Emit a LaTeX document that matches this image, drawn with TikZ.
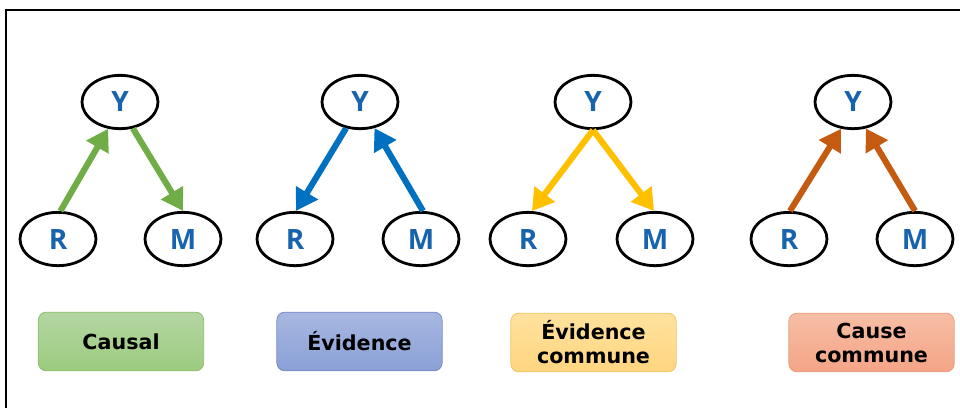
\documentclass[tikz,border=0pt]{standalone}
\usepackage{fontspec}
\setmainfont{DejaVu Sans}
\newfontfamily\letterfont{Open Sans}
\usetikzlibrary{shapes.geometric,arrows.meta}
\definecolor{cgreen}{HTML}{70AD47}
\definecolor{cblue}{HTML}{0070C0}
\definecolor{cyellow}{HTML}{FFC000}
\definecolor{corange}{HTML}{C55A11}
\definecolor{ltext}{HTML}{1863AE}
\tikzset{
  var/.style={ellipse, draw=black, line width=2.1pt, minimum width=57pt, minimum height=40pt, inner sep=0pt, font=\letterfont\bfseries\fontsize{21}{24}\selectfont, text=ltext},
  conn/.style={line width=4.6pt, -{Triangle[length=16pt,width=18.5pt]}},
  lbl/.style={rounded corners=6pt, line width=0.6pt, minimum width=124pt, minimum height=44pt, inner sep=0pt, align=center, font=\bfseries\fontsize{15.5}{18}\selectfont, text=black},
}
\begin{document}
\begin{tikzpicture}[x=0.75pt,y=-0.75pt]
\useasboundingbox (0,0) rectangle (960,408);
\draw[line width=1.2pt] (960,10) -- (6,10) -- (6,408);
% group 1
\node[var] (Y1) at (120,102) {Y};
\node[var] (R1) at (58,239) {R};
\node[var] (M1) at (183,239) {M};
\draw[conn, cgreen] (R1.85) -- (Y1.246);
\draw[conn, cgreen] (Y1.296) -- (M1.90);
% group 2
\node[var] (Y2) at (360,102) {Y};
\node[var] (R2) at (295,239) {R};
\node[var] (M2) at (421,239) {M};
\draw[conn, cblue] (Y2.242) -- (R2.88);
\draw[conn, cblue] (M2.86) -- (Y2.299);
% group 3
\node[var] (Y3) at (593,102) {Y};
\node[var] (R3) at (528,239) {R};
\node[var] (M3) at (655,239) {M};
\draw[conn, cyellow] (Y3.270) -- (R3.82);
\draw[conn, cyellow] (Y3.270) -- (M3.92);
% group 4
\node[var] (Y4) at (853,102) {Y};
\node[var] (R4) at (789,239) {R};
\node[var] (M4) at (915,239) {M};
\draw[conn, corange] (R4.88) -- (Y4.246);
\draw[conn, corange] (M4.90) -- (Y4.296);
% labels
\node[lbl, draw={rgb,255:red,140;green,190;blue,110}, top color={rgb,255:red,180;green,214;blue,163}, bottom color={rgb,255:red,156;green,203;blue,127}] (L1) at (121,341.5) {Causal};
\node[lbl, draw={rgb,255:red,118;green,138;blue,196}, top color={rgb,255:red,168;green,183;blue,225}, bottom color={rgb,255:red,138;green,160;blue,214}] (L2) at (359.5,341.5) {Évidence};
\node[lbl, draw={rgb,255:red,238;green,196;blue,100}, top color={rgb,255:red,255;green,226;blue,158}, bottom color={rgb,255:red,255;green,213;blue,128}] (L3) at (593.5,342.5) {Évidence\\commune};
\node[lbl, draw={rgb,255:red,232;green,160;blue,128}, top color={rgb,255:red,246;green,190;blue,165}, bottom color={rgb,255:red,244;green,164;blue,134}] (L4) at (871.5,342.5) {Cause\\commune};
\end{tikzpicture}
\end{document}
